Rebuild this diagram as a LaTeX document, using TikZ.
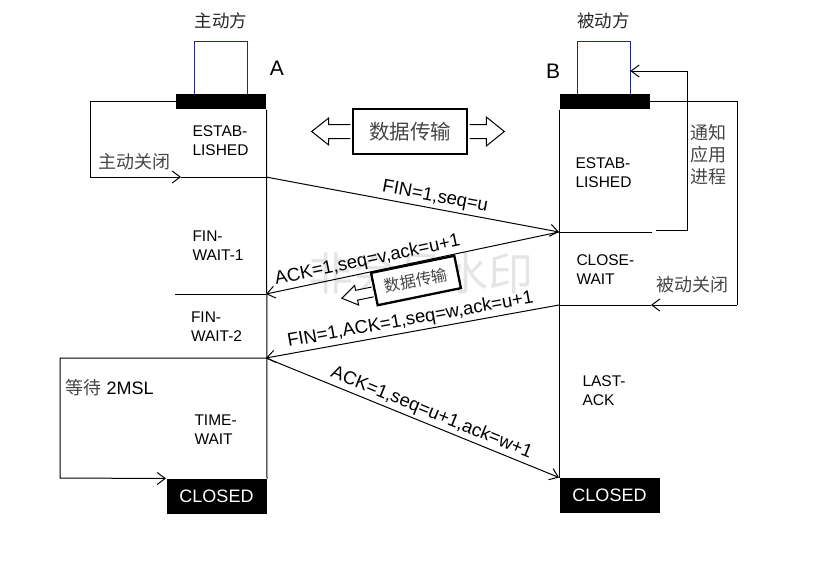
\documentclass[tikz,border=0pt]{standalone}
\usepackage{fontspec}
\setmainfont{Liberation Sans}
\newfontfamily\cjk{Noto Sans CJK SC}
\usepackage{xcolor}
\usepackage{tikz}
\usetikzlibrary{arrows.meta, positioning}

\definecolor{hostnavy}{RGB}{40,40,120}
\definecolor{zhgray}{RGB}{70,70,70}

\begin{document}
\begin{tikzpicture}[
x = 1pt, y = -1pt,
line width = 1pt,
every node/.style = {inner sep=0pt, font=\fontsize{15.5}{19}\selectfont},
state/.style = {anchor=west, align=left},
bar/.style = {fill=black, minimum width=90pt, minimum height=15pt},
host/.style = {draw=hostnavy, line width=0.8pt, minimum width=53pt, minimum height=53pt},
endbox/.style = {fill=black, text=white, minimum width=100pt, minimum height=35pt,
                 font=\fontsize{18}{20}\selectfont},
zh/.style = {text=zhgray, font=\cjk\fontsize{18}{22}\selectfont},
xferbox/.style = {draw, fill=white, line width=2.6pt, text=zhgray},
msg/.style = {sloped, above=2.5pt, font=\fontsize{18.5}{20}\selectfont},
arr/.style = {draw, -{Straight Barb[length=8pt, width=12pt]}},
                        ]
\useasboundingbox (0,0) rectangle (815,571);
% watermark
\node (wm) [text=black!10, font=\cjk\fontsize{45}{45}\selectfont] at (421,273) {非会员水印};

% hosts
\node (hostA) [host] at (221,67.5) {};
\node (barA)  [bar] at (221,101.5) {};
\node (roleA) [text=black!85, font=\cjk\fontsize{17.5}{20}\selectfont, above=11pt of hostA] {主动方};
\node (nameA) [font=\fontsize{21}{24}\selectfont] at (277,68) {A};
\node (hostB) [host] at (603.5,67.5) {};
\node (barB)  [bar] at (604.5,101.5) {};
\node (roleB) [text=black!85, font=\cjk\fontsize{17.5}{20}\selectfont, above=11pt of hostB] {被动方};
\node (nameB) [font=\fontsize{21}{24}\selectfont] at (553,71) {B};
\node (closedA) [endbox] at (216.5,496.5) {CLOSED};
\node (closedB) [endbox] at (609.5,495.5) {CLOSED};

% states
\node (estA) [state] at (192,140.5) {ESTAB-\\LISHED};
\node (fw1)  [state] at (192,246)   {FIN-\\WAIT-1};
\node (fw2)  [state] at (190.5,326.5) {FIN-\\WAIT-2};
\node (tw)   [state] at (194,429.5) {TIME-\\WAIT};
\node (estB) [state] at (575,172.5) {ESTAB-\\LISHED};
\node (cw)   [state] at (576,269.5) {CLOSE-\\WAIT};
\node (la)   [state] at (582,390.5) {LAST-\\ACK};

\coordinate (a1) at (266,177);
\coordinate (a2) at (266,294);
\coordinate (a3) at (266,358);
\coordinate (b1) at (559,232);
\coordinate (b2) at (559,305);
\coordinate (sepA) at (175,294);
\coordinate (sepB) at (652,232);

% time lines
\draw (barA.south east) -- (closedA.north east);
\draw (barB.south west) -- (closedB.north west);
\draw (sepA) -- (a2);
\draw (b1) -- (sepB);

% active close
\coordinate (lc0) at (90,177);
\coordinate (lc1) at (181,177);
\draw (barA.west) -| (lc0);
\draw [arr] (lc0) -- (lc1);
\draw (lc1) -- (a1);
\node (actclose) [zh] at (134,162) {主动关闭};

% wait 2MSL
\coordinate (lw) at (60,478);
\draw [arr] (a3) -| (lw) -- (closedA.north west);
\node (wait) [anchor=west, font=\fontsize{18}{20}\selectfont] at (65,388) {\textcolor{zhgray}{\cjk 等待} 2MSL};

% notify application
\coordinate (nt0) at (656,230);
\coordinate (nt1) at (687,71);
\draw [arr] (nt0) -| (nt1) -- (hostB.east |- nt1);
\node (notify) [zh, align=left] at (708,155) {通知\\应用\\进程};

% passive close
\coordinate (rc0) at (737,305);
\coordinate (rc1) at (651,305);
\draw (barB.east) -| (rc0);
\draw [arr] (rc0) -- (rc1);
\draw (rc1) -- (b2);
\node (psvclose) [zh] at (692,285) {被动关闭};

% segments
\draw [arr] (a1) -- node [msg, pos=0.57]  {FIN=1,seq=u} (b1);
\draw [arr] (b1) -- node [msg, pos=0.645] {ACK=1,seq=v,ack=u+1} (a2);
\draw [arr] (b2) -- node [msg, pos=0.5]   {FIN=1,ACK=1,seq=w,ack=u+1} (a3);
\draw [arr] (a3) -- node [msg, pos=0.55]  {ACK=1,seq=u+1,ack=w+1} (closedB.north west);

% data transfer
\node (xfer) [xferbox, minimum width=114pt, minimum height=45pt,
              font=\cjk\fontsize{20.5}{22}\selectfont] at (410,131.5) {数据传输};
\begin{scope}[shift={(xfer.west)}]
\draw [fill=white] (-1.3,-7) -- (-23,-7) -- (-23,-13.5) -- (-40,0) -- (-23,13.5) -- (-23,7) -- (-1.3,7);
\end{scope}
\begin{scope}[shift={(xfer.east)}]
\draw [fill=white] (1.3,-7) -- (18,-7) -- (18,-14.5) -- (36,0) -- (18,14.5) -- (18,7) -- (1.3,7);
\end{scope}

\node (xfer2) [xferbox, rotate=11.6, minimum width=85pt, minimum height=33pt, line width=2.3pt,
               font=\cjk\fontsize{16}{18}\selectfont] at (416,280.5) {数据传输};
\begin{scope}[shift={(xfer2.west)}, rotate=11.6]
\draw [fill=white] (-1.2,-2.5) -- (-17.5,-2.5) -- (-17.5,-7.5) -- (-32.5,2.5) -- (-17.5,12.5) -- (-17.5,7.5) -- (-1.2,7.5);
\end{scope}
\end{tikzpicture}
\end{document}
